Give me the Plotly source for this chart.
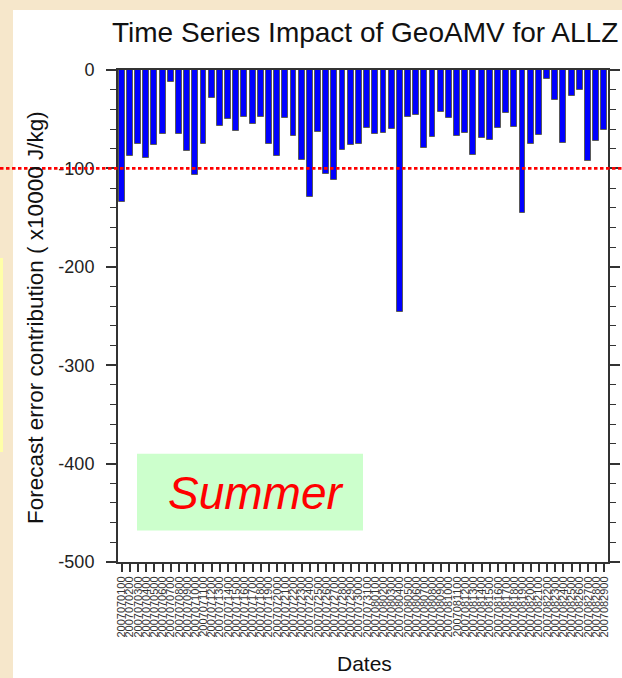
import pandas as pd
import plotly.graph_objects as go

# Daily forecast error contribution of GeoAMV observations (x10000 J/kg)
days = list(range(1, 61))
dates = [d.strftime("%Y%m%d00") for d in pd.date_range("2007-07-01", periods=60, freq="D")]
impact = [
    -134, -87, -75, -89, -76, -65, -12, -65, -82, -107,
    -75, -28, -57, -50, -62, -48, -55, -48, -75, -87,
    -49, -67, -91, -129, -63, -106, -112, -81, -76, -75,
    -59, -65, -64, -60, -246, -48, -46, -79, -68, -43,
    -49, -67, -64, -86, -69, -71, -59, -44, -58, -145,
    -75, -66, -9, -30, -74, -26, -20, -92, -72, -61,
]
y_ticks = [0, -100, -200, -300, -400, -500]
reference_level = -100

W, H = 622, 678
L, R, T, B = 118, 14, 70, 116
PW, PH = W - L - R, H - T - B


def px_x(x):
    return (x - L) / PW


def px_y(y):
    return 1 - (y - T) / PH


axis_color = "#333333"

fig = go.Figure()
fig.add_bar(
    x=days,
    y=impact,
    width=0.72,
    marker=dict(color="#0000FF", line=dict(color="#5a5a5a", width=1)),
    showlegend=False,
)

fig.update_layout(
    width=W,
    height=H,
    autosize=False,
    showlegend=False,
    margin=dict(l=L, r=R, t=T, b=B, pad=0, autoexpand=False),
    paper_bgcolor="#F6E7CB",
    plot_bgcolor="white",
    font=dict(family="Liberation Sans, Arial, sans-serif", color="#111111"),
    bargap=0,
    shapes=[
        # white slide panel
        dict(type="rect", xref="paper", yref="paper",
             x0=px_x(13), x1=px_x(W + 5), y0=px_y(H + 5), y1=px_y(10),
             fillcolor="white", line=dict(width=0), layer="below"),
        # faint highlight strip at the left edge
        dict(type="rect", xref="paper", yref="paper",
             x0=px_x(0), x1=px_x(3), y0=px_y(452), y1=px_y(258),
             fillcolor="#FFFFA8", line=dict(width=0), layer="below"),
        # season label box
        dict(type="rect", xref="paper", yref="y",
             x0=px_x(137), x1=px_x(363), y0=-468, y1=-390,
             fillcolor="#CCFFCC", line=dict(width=0), layer="below"),
        # dotted reference line across the whole slide
        dict(type="line", xref="paper", yref="y",
             x0=px_x(0), x1=px_x(W), y0=reference_level, y1=reference_level,
             line=dict(color="#FF0000", width=2.6, dash="3.5px,2.5px"),
             layer="above"),
    ],
    annotations=[
        dict(text="Time Series Impact of GeoAMV for ALLZ", xref="paper", yref="paper",
             x=px_x(365), y=px_y(32), xanchor="center", yanchor="middle",
             showarrow=False, font=dict(size=28, color="#111111")),
        dict(text="Forecast error contribution ( x10000 J/kg)", xref="paper", yref="paper",
             x=px_x(35), y=px_y(318), xanchor="center", yanchor="middle", textangle=-90,
             showarrow=False, font=dict(size=22.5, color="#111111")),
        dict(text="Dates", xref="paper", yref="paper",
             x=px_x(364), y=px_y(663), xanchor="center", yanchor="middle",
             showarrow=False, font=dict(size=21, color="#111111")),
        dict(text="Summer", xref="paper", yref="y",
             x=px_x(255), y=-430, xanchor="center", yanchor="middle",
             showarrow=False,
             font=dict(size=46, color="#FF0000", style="italic",
                       family="Liberation Sans, Arial, sans-serif")),
    ],
)

fig.update_xaxes(
    automargin=False,
    range=[0.55, 60.45],
    tickmode="array",
    tickvals=days,
    ticktext=dates,
    tickangle=-90,
    tickfont=dict(size=11, color="#333333"),
    ticks="outside",
    ticklen=8,
    tickwidth=1.5,
    tickcolor=axis_color,
    showline=True,
    linecolor=axis_color,
    linewidth=2,
    mirror=True,
    showgrid=False,
    zeroline=False,
)

fig.update_yaxes(
    automargin=False,
    range=[-500, 0],
    tickmode="array",
    tickvals=y_ticks,
    ticktext=[str(v) for v in y_ticks],
    tickfont=dict(size=18, color="#222222"),
    ticks="outside",
    ticklen=10,
    tickwidth=1.5,
    tickcolor=axis_color,
    ticklabelstandoff=8,
    minor=dict(dtick=20, ticks="outside", ticklen=6, tickwidth=1.2, tickcolor=axis_color),
    showline=True,
    linecolor=axis_color,
    linewidth=2,
    mirror="ticks",
    showgrid=False,
    zeroline=False,
)

fig.write_html("out.html")
